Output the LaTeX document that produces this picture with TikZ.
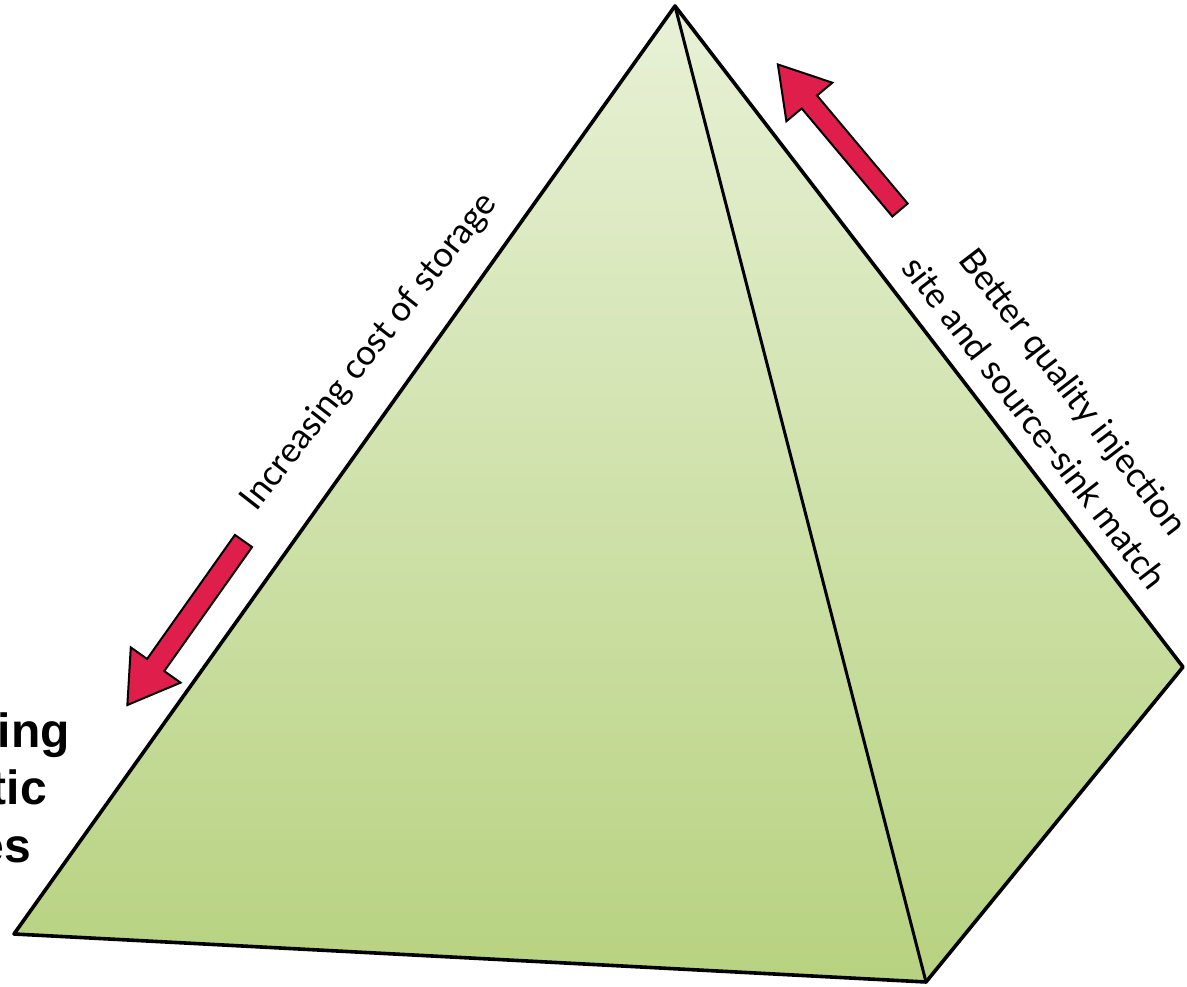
\documentclass[tikz,border=0pt]{standalone}
\usepackage{fontspec}
\setmainfont{Lato}
\newfontfamily\boldsans{Liberation Sans}
\definecolor{facetop}{RGB}{232,241,214}
\definecolor{facebot}{RGB}{183,210,128}
\definecolor{arrowred}{RGB}{224,30,76}
\begin{document}
\begin{tikzpicture}[x=1pt,y=1pt,
  edge/.style={line width=3.6pt, line join=round, line cap=round},
  fatarrow/.style={draw=black, line width=2pt, fill=arrowred, line join=miter},
  sidelabel/.style={font=\fontsize{35}{42}\selectfont, inner sep=0pt, anchor=base},
  cutlabel/.style={font=\boldsans\bfseries\fontsize{48}{57.6}\selectfont, inner sep=0pt, anchor=base east}]
\useasboundingbox (0,0) rectangle (1187,987);
\clip (0,0) rectangle (1187,987);
\fill[white] (0,0) rectangle (1187,987);

% pyramid corners
\coordinate (A) at (675,981);
\coordinate (L) at (14,53);
\coordinate (F) at (926,5);
\coordinate (R) at (1183,320);

% faces
\shade[top color=facetop, bottom color=facebot] (A) -- (L) -- (F) -- cycle;
\shade[top color=facetop, bottom color=facebot] (A) -- (F) -- (R) -- cycle;
\draw[edge] (A) -- (L) -- (F) -- (R) -- cycle;
\draw[edge, line width=3pt] (A) -- (F);

% cut-off bold text at the left
\node[cutlabel] (cut1) at (70,239) {ing};
\node[cutlabel] (cut2) at (47,182) {tic};
\node[cutlabel] (cut3) at (31,124) {es};

% labels along the edges
\node[sidelabel, rotate=52] (costlbl) at (377,629) {Increasing cost of storage};
\node[sidelabel, rotate=-52.46] (qual1) at (1064,588) {Better quality injection};
\node[sidelabel, rotate=-52.46] (qual2) at (1025,557) {site and source-sink match};

% red arrows
\begin{scope}[shift={(243.5,446)}, rotate=234.7]
  \draw[fatarrow] (0,-10.5) -- (152,-10.5) -- (152,-30.5) -- (201,0) -- (152,30.5) -- (152,10.5) -- (0,10.5) -- cycle;
\end{scope}
\begin{scope}[shift={(900,777)}, rotate=130]
  \draw[fatarrow] (0,-10) -- (141,-10) -- (141,-30) -- (190,0) -- (141,30) -- (141,10) -- (0,10) -- cycle;
\end{scope}
\end{tikzpicture}
\end{document}
